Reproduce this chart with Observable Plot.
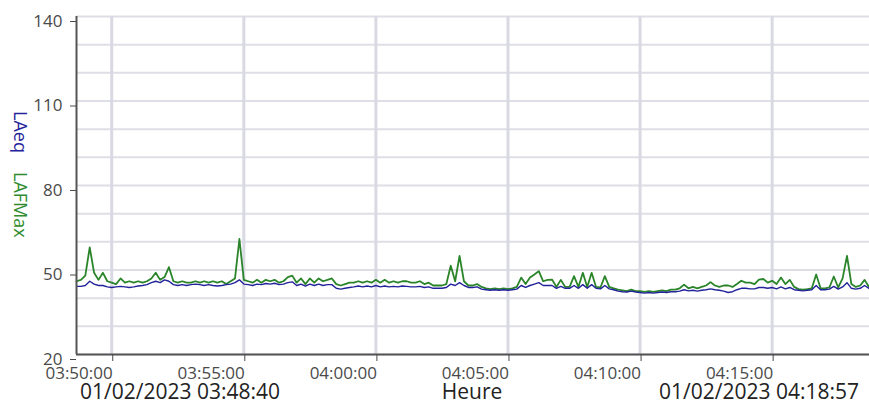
<!DOCTYPE html>
<html><head><meta charset="utf-8">
<script src="https://cdn.jsdelivr.net/npm/d3@7"></script>
<script src="https://cdn.jsdelivr.net/npm/@observablehq/plot@0.6"></script>
<style>body{margin:0;overflow:hidden;background:#fff;font-family:"Open Sans",sans-serif}</style>
</head><body><div id="chart"></div>
<script>
const startTime = "2023-02-01T03:48:40Z";
const endTime = "2023-02-01T04:18:57Z";
const stepSeconds = 10;
const lafmax = [
46, 46.5, 48, 58, 49, 46.5, 49, 46, 45.5, 45,
47, 45.5, 46, 45.5, 46, 45.5, 46, 47, 49, 46.5,
47.5, 51, 46, 45.5, 46, 45.5, 45.5, 46, 45.5, 46,
45.5, 46, 45.5, 46, 45, 46, 47, 61, 46.5, 46,
45.5, 46.5, 45.5, 46.5, 46, 46.5, 45.5, 46, 47.5, 48,
45.5, 47, 45, 47, 45.5, 47, 46, 46.5, 47, 45,
44.5, 45, 45.5, 45.5, 46, 45.5, 46, 45.5, 46.5, 45.5,
46.5, 45.5, 46, 45.5, 46, 46, 45.5, 45.5, 46, 45,
45.5, 44.5, 44.5, 44.5, 45, 51.5, 46, 55, 46, 44.5,
44.5, 45, 44, 43.5, 43.2, 43.5, 43.2, 43.5, 43.2, 43.5,
44, 47.3, 45, 47.3, 48.4, 49.6, 46, 46.5, 46.6, 44,
46.5, 44, 44, 47.8, 44, 49, 44, 49, 44, 43.8,
47.8, 44, 43.5, 43, 42.8, 42.5, 43, 42.5, 42.5, 42.2,
42.5, 42.2, 42.5, 42.8, 42.5, 43, 43, 43.5, 44.8, 43.5,
44, 43.5, 44, 44.5, 45.7, 44.5, 44, 44.5, 44.5, 44,
45, 46.2, 45.5, 45.5, 45, 46.6, 46.8, 45.5, 46.2, 45,
47.3, 45, 46.5, 44, 43.2, 43, 43.2, 43.5, 48.4, 43.5,
43.5, 43.8, 47.7, 43.8, 47, 55, 45, 44, 44.5, 46.5,
44, 43.8
];
const laeq = [
44.2, 44.2, 44.5, 46, 45, 44.5, 44.5, 44, 43.8, 44,
44.2, 44, 43.8, 44, 44.3, 44.5, 44.8, 45.5, 46, 45.5,
46.5, 46, 44.8, 44.5, 44.8, 44.5, 44.8, 45, 44.8, 44.5,
44.8, 44.5, 44.3, 44.5, 44.8, 45, 45.5, 46.5, 45, 44.8,
44.5, 45, 44.8, 45.2, 45, 45.3, 44.8, 45, 45.5, 45.8,
44.5, 45, 44.3, 45, 44.5, 45, 44.5, 44.8, 44.8, 43.5,
43.2, 43.5, 43.8, 44, 44.3, 44, 44.3, 44, 44.5, 44,
44.3, 44, 44.2, 44, 44.3, 44.2, 44, 44, 44.2, 43.8,
44, 43.5, 43.5, 43.5, 43.8, 45, 44.5, 45.5, 44.5, 43.8,
43.8, 44, 43.2, 43, 42.8, 43, 42.8, 43, 42.8, 43,
43.2, 44.5, 43.8, 44.5, 45, 45.5, 44.5, 44.5, 44.5, 43.5,
44.2, 43.5, 43.5, 44.5, 43.5, 44.8, 43.5, 44.8, 43.5, 43.3,
44.5, 43.3, 43, 42.5, 42.3, 42.2, 42.5, 42.2, 42, 41.8,
42, 41.8, 42, 42.2, 42, 42.3, 42.3, 42.5, 43, 42.6,
42.8, 42.5, 42.8, 43, 43.3, 43, 42.8, 42.5, 42, 42.3,
43, 43.5, 43.5, 43.3, 43.3, 43.8, 43.8, 43.5, 43.8, 43.3,
44, 43.3, 43.8, 43, 42.8, 42.6, 42.8, 43, 44.5, 43,
43, 43.2, 44.2, 43.2, 44, 45.5, 43.5, 43.2, 43.5, 44.5,
43.5, 43.3
];
const yTicks = [20, 50, 80, 110, 140];
const xTickLabels = ["03:50:00", "03:55:00", "04:00:00", "04:05:00", "04:10:00", "04:15:00"];
const yLabels = ["LAeq", "LAFMax"];
const bottomLabels = ["01/02/2023 03:48:40", "Heure", "01/02/2023 04:18:57"];

const t0 = new Date(startTime);
const t1 = new Date(endTime);
const rowsMax = lafmax.map((v, i) => ({t: new Date(+t0 + i * stepSeconds * 1000), v}));
const rowsEq = laeq.map((v, i) => ({t: new Date(+t0 + i * stepSeconds * 1000), v}));
const xTicks = xTickLabels.map(s => new Date(`2023-02-01T${s}Z`));
const yGrid = d3.range(20, 141, 10);

const plot = Plot.plot({
  width: 869, height: 405,
  marginLeft: 76, marginTop: 16, marginBottom: 51, marginRight: 0,
  style: {fontFamily: "Open Sans, sans-serif", background: "#fff", color: "#4a4a4a", overflow: "hidden"},
  x: {type: "utc", domain: [t0, t1], range: [76, 876]},
  y: {domain: [20, 140], range: [354, 16]},
  marks: [
    Plot.ruleY(yGrid, {stroke: "#dedee6", strokeWidth: 2}),
    Plot.ruleX(xTicks, {stroke: "#d9d9e3", strokeWidth: 3}),
    Plot.line(rowsMax, {x: "t", y: "v", stroke: "#2a842a", strokeWidth: 1.8}),
    Plot.line(rowsEq, {x: "t", y: "v", stroke: "#22229a", strokeWidth: 1.4}),
    Plot.ruleY([20], {stroke: "#555", strokeWidth: 2}),
    Plot.ruleX([t0], {stroke: "#555", strokeWidth: 2}),
    Plot.axisY({ticks: yTicks, tickSize: 6, tickPadding: 8, fontSize: 17, dy: 5, label: null}),
    Plot.axisX({ticks: xTicks, tickFormat: (d, i) => xTickLabels[i], tickSize: 7, tickPadding: 5, fontSize: 17, textAnchor: "end", dx: 1, label: null})
  ]
});
document.getElementById("chart").appendChild(plot);

const svg = d3.select(plot);
svg.append("text").attr("transform", "translate(19,111) rotate(90)").attr("text-anchor", "start")
  .attr("dominant-baseline", "middle").attr("font-size", 18).attr("fill", "#24249a").text(yLabels[0]);
svg.append("text").attr("transform", "translate(19,172) rotate(90)").attr("text-anchor", "start")
  .attr("dominant-baseline", "middle").attr("font-size", 18).attr("fill", "#2e8b2e").text(yLabels[1]);
const bl = svg.append("g").attr("font-size", 21).attr("fill", "#222");
bl.append("text").attr("x", 80).attr("y", 399).attr("text-anchor", "start").text(bottomLabels[0]);
bl.append("text").attr("x", 472).attr("y", 399).attr("text-anchor", "middle").text(bottomLabels[1]);
bl.append("text").attr("x", 859).attr("y", 399).attr("text-anchor", "end").text(bottomLabels[2]);
</script></body></html>
